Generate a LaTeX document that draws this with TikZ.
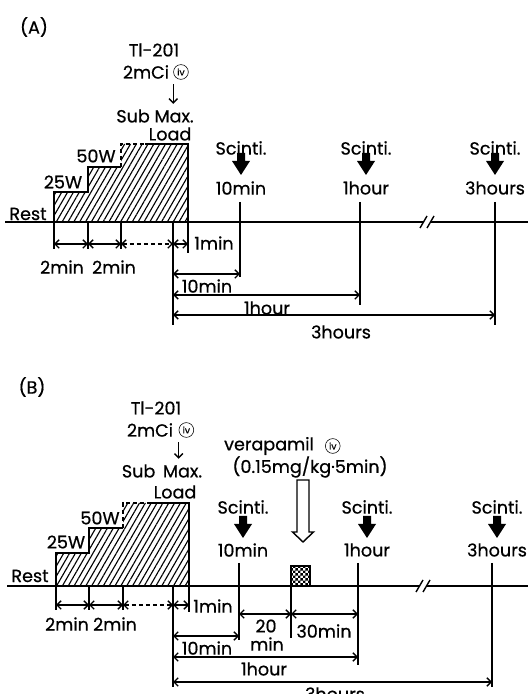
\documentclass[tikz,border=0pt]{standalone}
\usepackage{fontspec}
\setmainfont{Poppins}[FakeBold=0.6]
\usetikzlibrary{arrows.meta, positioning, calc, patterns, patterns.meta}

\pgfdeclarepatternformonly{finechecker}{\pgfqpoint{0pt}{0pt}}{\pgfqpoint{3.8pt}{3.8pt}}{\pgfqpoint{3.8pt}{3.8pt}}{%
    \pgfpathrectangle{\pgfqpoint{0pt}{0pt}}{\pgfqpoint{1.9pt}{1.9pt}}%
    \pgfpathrectangle{\pgfqpoint{1.9pt}{1.9pt}}{\pgfqpoint{1.9pt}{1.9pt}}%
    \pgfusepath{fill}}

\tikzset{
    dim/.style={line width=1pt, {Straight Barb[length=3pt,width=6pt]}-{Straight Barb[length=3pt,width=6pt]}},
    ivmark/.style={circle, draw, thin, inner sep=0pt, minimum size=10.5pt, font=\fontsize{6.5}{7}\selectfont},
    loadarea/.style={pattern={Lines[angle=60, distance=3.6pt, line width=0.8pt]}},
    timeaxis/.style={line width=1.5pt},
    gap/.style={line width=1pt, dash pattern=on 3pt off 2pt},
}

\begin{document}
\begin{tikzpicture}[x=0.025cm, y=0.025cm, line width=1pt,
    every node/.style={font=\fontsize{12.5}{14}\selectfont, inner sep=0.5pt}]
    \useasboundingbox (0,0) rectangle (528,694);

    % ---------------- Panel (A)
    \begin{scope}[shift={(0,472)}]
    \node (tagA) at (34,195) {(A)};
    \node (tlA) at (154,172) {Tl-201};
    \node (doseA) at (146,150) {2mCi};
    \node[ivmark, right=2pt of doseA] (ivA) {iv};
    \node (subA) at (155,106) {Sub Max.};
    \node (loadA) at (170,88) {Load};
    \draw[-{Straight Barb[length=3pt,width=6pt]}, shorten <=3pt, shorten >=3pt]
        (doseA.south -| ivA.west) -- (subA.north -| ivA.west);

    % Load profile
    \fill[loadarea] (54,0) -- (54,30) -- (88,30) -- (88,55) -- (121,55) -- (121,78) -- (188,78) -- (188,0) -- cycle;
    \draw (54,0) -- (54,30) -- (88,30) -- (88,55) -- (121,55);
    \draw[gap] (121,55) -- (121,78) -- (145,78);
    \draw (145,78) -- (188,78) -- (188,-31);
    \node (w25A) at (63,40) {25W};
    \node (w50A) at (96,66) {50W};
    \node (restA) at (28,8) {Rest};

    % Time axis
    \foreach \n/\x in {A0/54, A1/88, A2/121, A3/173, A4/188, A10m/240, A1h/360, A3h/495}
        \coordinate (\n) at (\x,0);
    \draw[timeaxis] (5,0) -- (528,0);
    \fill[white] (421,-5) -- (427,6) -- (434,6) -- (428,-5) -- cycle;
    \draw (420,-6) -- (427,6) (427,-6) -- (434,6);
    \foreach \n in {A0, A1, A2}
        \draw (\n) -- ++(0,-27);
    \draw (A3) -- ++(0,-103);
    \draw (A10m) ++(0,20) -- ++(0,-75);
    \draw (A1h) ++(0,20) -- ++(0,-103);
    \draw (A3h) ++(0,20) -- ++(0,-123);

    % Durations
    \draw[dim] (A0 |- 0,-22) -- (A1 |- 0,-22);
    \draw[dim] (A1 |- 0,-22) -- (A2 |- 0,-22);
    \draw[dim, gap] (A2 |- 0,-22) -- (A3 |- 0,-22);
    \draw[dim] (A3 |- 0,-22) -- (A4 |- 0,-22);
    \node (m1A) at (214,-21) {1min};
    \node (m2aA) at (62,-45) {2min};
    \node (m2bA) at (114,-45) {2min};
    \draw[dim] (A3 |- 0,-52) -- (A10m |- 0,-52);
    \node (m10A) at (207,-64) {10min};
    \draw[dim] (A3 |- 0,-73) -- (A1h |- 0,-73);
    \node (h1A) at (267,-86) {1hour};
    \draw[dim] (A3 |- 0,-93) -- (A3h |- 0,-93);
    \node (h3A) at (341,-110) {3hours};

    % Scintigrams
    \foreach \x/\t [count=\i] in {241/10min, 366/1hour, 495/3hours} {
        \node (scA\i) at (\x,74) {Scinti.};
        \fill (\x,47) -- ++(9,14) -- ++(-5,0) -- ++(0,8) -- ++(-8,0) -- ++(0,-8) -- ++(-5,0) -- cycle;
        \node (tmA\i) at (\x,34) {\t};
    }
    \end{scope}

    % ---------------- Panel (B)
    \begin{scope}[shift={(0,108)}]
    \node (tagB) at (32,199) {(B)};
    \node (tlB) at (156,178) {Tl-201};
    \node (doseB) at (150,156) {2mCi};
    \node[ivmark, right=3pt of doseB] (ivB) {iv};
    \node (subB) at (162,115) {Sub\, Max.};
    \node (loadB) at (175,94) {Load};
    \draw[-{Straight Barb[length=3pt,width=6pt]}, shorten <=3pt, shorten >=3pt]
        (doseB.south -| ivB.west) -- (subB.north -| ivB.west);

    % Load profile
    \fill[loadarea] (56,0) -- (56,33) -- (89,33) -- (89,58) -- (123,58) -- (123,83) -- (189,83) -- (189,0) -- cycle;
    \draw (56,0) -- (56,33) -- (89,33) -- (89,58) -- (123,58);
    \draw[gap] (123,58) -- (123,83) -- (148,83);
    \draw (148,83) -- (189,83) -- (189,-26);
    \node (w25B) at (66,44) {25W};
    \node (w50B) at (100,68) {50W};
    \node (restB) at (30,10) {Rest};

    % Verapamil
    \node (veraB) at (269,140) {verapamil};
    \node[ivmark, right=7pt of veraB] (ivB2) {iv};
    \node (rateB) at (310,119) {(0.15mg/kg·5min)};
    \draw[fill=white] (303,44) -- ++(10.5,10) -- ++(-4.5,0) -- ++(0,52) -- ++(-12,0) -- ++(0,-52) -- ++(-4.5,0) -- cycle;
    \draw[pattern=finechecker] (291,0) rectangle (310,20);

    % Time axis
    \foreach \n/\x in {B0/56, B1/89, B2/123, B3/173, B4/189, B10m/239, Bv/291, B1h/358, B3h/492}
        \coordinate (\n) at (\x,0);
    \draw[timeaxis] (7,0) -- (528,0);
    \fill[white] (417,-5) -- (423,6) -- (430,6) -- (424,-5) -- cycle;
    \draw (416,-6) -- (423,6) (423,-6) -- (430,6);
    \foreach \n in {B0, B1, B2}
        \draw (\n) -- ++(0,-24);
    \draw (B3) -- ++(0,-101);
    \draw (Bv) -- ++(0,-52);
    \draw (B10m) ++(0,23) -- ++(0,-77);
    \draw (B1h) ++(0,23) -- ++(0,-102);
    \draw (B3h) ++(0,23) -- ++(0,-124);

    % Durations
    \draw[dim] (B0 |- 0,-19) -- (B1 |- 0,-19);
    \draw[dim] (B1 |- 0,-19) -- (B2 |- 0,-19);
    \draw[dim, gap] (B2 |- 0,-19) -- (B3 |- 0,-19);
    \draw[dim] (B3 |- 0,-19) -- (B4 |- 0,-19);
    \node (m1B) at (213,-20) {1min};
    \node (m2aB) at (67,-38) {2min};
    \node (m2bB) at (115,-38) {2min};
    \draw[dim] (B10m |- 0,-28) -- (Bv |- 0,-28);
    \draw[dim] (Bv |- 0,-28) -- (B1h |- 0,-28);
    \node (m20B) at (266,-40) {20};
    \node (m20uB) at (267,-58) {min};
    \node (m30B) at (324,-45) {30min};
    \draw[dim] (B3 |- 0,-50) -- (B10m |- 0,-50);
    \node (m10B) at (207,-62) {10min};
    \draw[dim] (B3 |- 0,-71) -- (B1h |- 0,-71);
    \node (h1B) at (264,-83) {1hour};
    \draw[dim] (B3 |- 0,-96) -- (B3h |- 0,-96);
    \node (h3B) at (335,-108) {3hours};

    % Scintigrams
    \foreach \x/\t [count=\i] in {243/10min, 367/1hour, 497/3hours} {
        \node (scB\i) at (\x,79) {Scinti.};
        \fill (\x,48) -- ++(9,14) -- ++(-5,0) -- ++(0,8) -- ++(-8,0) -- ++(0,-8) -- ++(-5,0) -- cycle;
        \node (tmB\i) at (\x,36) {\t};
    }
    \end{scope}
\end{tikzpicture}
\end{document}
